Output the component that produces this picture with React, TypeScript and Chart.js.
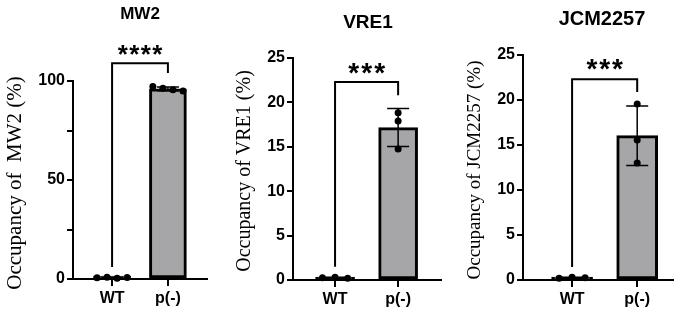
import React, { useEffect, useRef } from 'react';
import { Chart, registerables } from 'chart.js';
Chart.register(...registerables);

const groups = ['WT', 'p(-)'];
const panelTitles = ['MW2', 'VRE1', 'JCM2257'];
const axisTitles = ['Occupancy of  MW2 (%)', 'Occupancy of VRE1 (%)', 'Occupancy of JCM2257 (%)'];
const mw2WT = [0.6, 0.9, 0.4, 0.7];
const mw2P = [97.2, 96.4, 95.6, 95.0];
const vre1WT = [0.25, 0.3, 0.2];
const vre1P = [18.84, 17.91, 14.75];
const jcmWT = [0.2, 0.3, 0.25];
const jcmP = [19.56, 15.56, 13.0];
const yMaxes = [100, 25, 25];
const yTickSteps = [25, 5, 5];
const yLabelSteps = [50, 5, 5];
const significance = ['****', '***', '***'];
// bracket levels (data units): left foot, top, right foot, stars
const bracketLevels = [
  [6, 109, 104, 115.6],
  [1.5, 22.3, 20.8, 23.8],
  [1.45, 22.3, 20.9, 24.0],
];

const layouts = [
  { left: 0, width: 228, l: 73, r: 207, t: 81, b: 279, xMin: -0.7, xMax: 1.7, bar: 37, jitter: [0.18, 0.18], titleX: 140, titleY: 14, titleSize: 17, yTitleX: 15, yTitleY: 183, yTitleSize: 21, starSize: 26, starSpacing: 11.5 },
  { left: 228, width: 227, l: 65, r: 213, t: 58, b: 280, xMin: -0.667, xMax: 1.68, bar: 39, jitter: [0.2, 0], titleX: 140, titleY: 23, titleSize: 19, yTitleX: 17, yTitleY: 171, yTitleSize: 20, starSize: 28, starSpacing: 13 },
  { left: 455, width: 230, l: 68, r: 218, t: 55, b: 280, xMin: -0.754, xMax: 1.55, bar: 41, jitter: [0.2, 0], titleX: 147, titleY: 19, titleSize: 20, yTitleX: 20, yTitleY: 170, yTitleSize: 19, starSize: 28, starSpacing: 12.7 },
];
const seriesByPanel = [[mw2WT, mw2P], [vre1WT, vre1P], [jcmWT, jcmP]];

const H = 314;
const mean = (a: number[]) => a.reduce((s, v) => s + v, 0) / a.length;
const sd = (a: number[]) => {
  const m = mean(a);
  return Math.sqrt(a.reduce((s, v) => s + (v - m) ** 2, 0) / (a.length - 1));
};

function Panel({ idx }: { idx: number }) {
  const ref = useRef<HTMLCanvasElement>(null);
  const L = layouts[idx];
  useEffect(() => {
    const canvas = ref.current!;
    const series = seriesByPanel[idx];
    const pts: { x: number; y: number }[] = [];
    series.forEach((vals, g) =>
      vals.forEach((v, i) => pts.push({ x: g + (i - (vals.length - 1) / 2) * L.jitter[g], y: v }))
    );
    const bars = series.map((vals, g) => ({ x: g, y: mean(vals) }));
    const lv = bracketLevels[idx];

    const extras = {
      id: 'extras',
      afterDatasetDraw(chart: any, args: any) {
        if (args.index !== 1) return;
        const ctx = chart.ctx;
        const xs = chart.scales.x;
        const ys = chart.scales.y;
        ctx.save();
        ctx.strokeStyle = '#000';
        ctx.lineWidth = 1.5;
        series.forEach((vals, g) => {
          const m = mean(vals);
          const s = sd(vals);
          const px = xs.getPixelForValue(g);
          const yt = ys.getPixelForValue(m + s);
          const yb = ys.getPixelForValue(Math.max(0, m - s));
          ctx.beginPath();
          ctx.moveTo(px, yt);
          ctx.lineTo(px, yb);
          ctx.moveTo(px - 11, yt);
          ctx.lineTo(px + 11, yt);
          ctx.moveTo(px - 11, yb);
          ctx.lineTo(px + 11, yb);
          ctx.stroke();
        });
        ctx.restore();
      },
      afterDraw(chart: any) {
        const ctx = chart.ctx;
        const xs = chart.scales.x;
        const ys = chart.scales.y;
        ctx.save();
        ctx.fillStyle = '#000';
        // title
        ctx.font = `bold ${L.titleSize}px "Liberation Sans", Arial, sans-serif`;
        ctx.textAlign = 'center';
        ctx.textBaseline = 'middle';
        ctx.fillText(panelTitles[idx], L.titleX, L.titleY);
        // y title
        ctx.save();
        ctx.translate(L.yTitleX, L.yTitleY);
        ctx.rotate(-Math.PI / 2);
        ctx.font = `${L.yTitleSize}px "Liberation Serif", "Times New Roman", serif`;
        ctx.fillText(axisTitles[idx], 0, 0);
        ctx.restore();
        // bracket
        const x0 = xs.getPixelForValue(0);
        const x1 = xs.getPixelForValue(1);
        ctx.strokeStyle = '#000';
        ctx.lineWidth = 2;
        ctx.beginPath();
        ctx.moveTo(x0, ys.getPixelForValue(lv[0]));
        ctx.lineTo(x0, ys.getPixelForValue(lv[1]));
        ctx.lineTo(x1, ys.getPixelForValue(lv[1]));
        ctx.lineTo(x1, ys.getPixelForValue(lv[2]));
        ctx.stroke();
        // stars
        ctx.font = `bold ${L.starSize}px "Liberation Sans", Arial, sans-serif`;
        ctx.textBaseline = 'alphabetic';
        const met = ctx.measureText('*');
        const cy = ys.getPixelForValue(lv[3]);
        const base = cy + (met.actualBoundingBoxAscent - met.actualBoundingBoxDescent) / 2;
        const sig = significance[idx];
        const cx = (x0 + x1) / 2;
        for (let k = 0; k < sig.length; k++) {
          ctx.fillText(sig[k], cx + (k - (sig.length - 1) / 2) * L.starSpacing, base);
        }
        ctx.restore();
      },
    };

    const chart = new Chart(canvas, {
      type: 'bar',
      data: {
        datasets: [
          {
            type: 'scatter',
            data: pts,
            pointRadius: 3.5,
            pointBackgroundColor: '#000',
            pointBorderWidth: 0,
            clip: false,
          } as any,
          {
            type: 'bar',
            data: bars,
            backgroundColor: '#a6a6a9',
            borderColor: '#000',
            borderWidth: 3,
            borderSkipped: false,
            minBarLength: 3,
            barThickness: L.bar,
          } as any,
        ],
      },
      options: {
        animation: false,
        responsive: false,
        layout: { padding: { top: L.t, right: L.width - L.r, left: 0, bottom: 0 } },
        plugins: { legend: { display: false }, tooltip: { enabled: false } },
        scales: {
          x: {
            type: 'linear',
            min: L.xMin,
            max: L.xMax,
            offset: false,
            afterBuildTicks: (s: any) => {
              s.ticks = groups.map((_, i) => ({ value: i }));
            },
            afterFit: (s: any) => {
              s.height = H - L.b;
            },
            ticks: {
              callback: (v: any) => groups[v] ?? '',
              color: '#000',
              font: { family: '"Liberation Sans", Arial, sans-serif', weight: 'bold', size: 16 },
              padding: 3,
              maxRotation: 0,
            },
            grid: { display: true, offset: false, drawOnChartArea: false, drawTicks: true, tickLength: 7, color: '#000', lineWidth: 2 },
            border: { display: true, color: '#000', width: 2 },
          },
          y: {
            type: 'linear',
            min: 0,
            max: yMaxes[idx],
            afterFit: (s: any) => {
              s.width = L.l;
            },
            ticks: {
              stepSize: yTickSteps[idx],
              callback: (v: any) => (v % yLabelSteps[idx] === 0 ? String(v) : ''),
              color: '#000',
              font: { family: '"Liberation Sans", Arial, sans-serif', weight: 'bold', size: 16 },
              padding: 2,
            },
            grid: { display: true, drawOnChartArea: false, drawTicks: true, tickLength: 6, color: '#000', lineWidth: 2 },
            border: { display: true, color: '#000', width: 2 },
          },
        },
      },
      plugins: [extras],
    });
    return () => chart.destroy();
  }, [idx]);
  return (
    <canvas
      ref={ref}
      width={L.width}
      height={H}
      style={{ position: 'absolute', left: L.left, top: 0, width: L.width, height: H }}
    />
  );
}

export default function App() {
  return (
    <div style={{ position: 'fixed', left: 0, top: 0, width: 685, height: H, background: '#fff', overflow: 'hidden' }}>
      {layouts.map((_, i) => (
        <Panel key={i} idx={i} />
      ))}
    </div>
  );
}
